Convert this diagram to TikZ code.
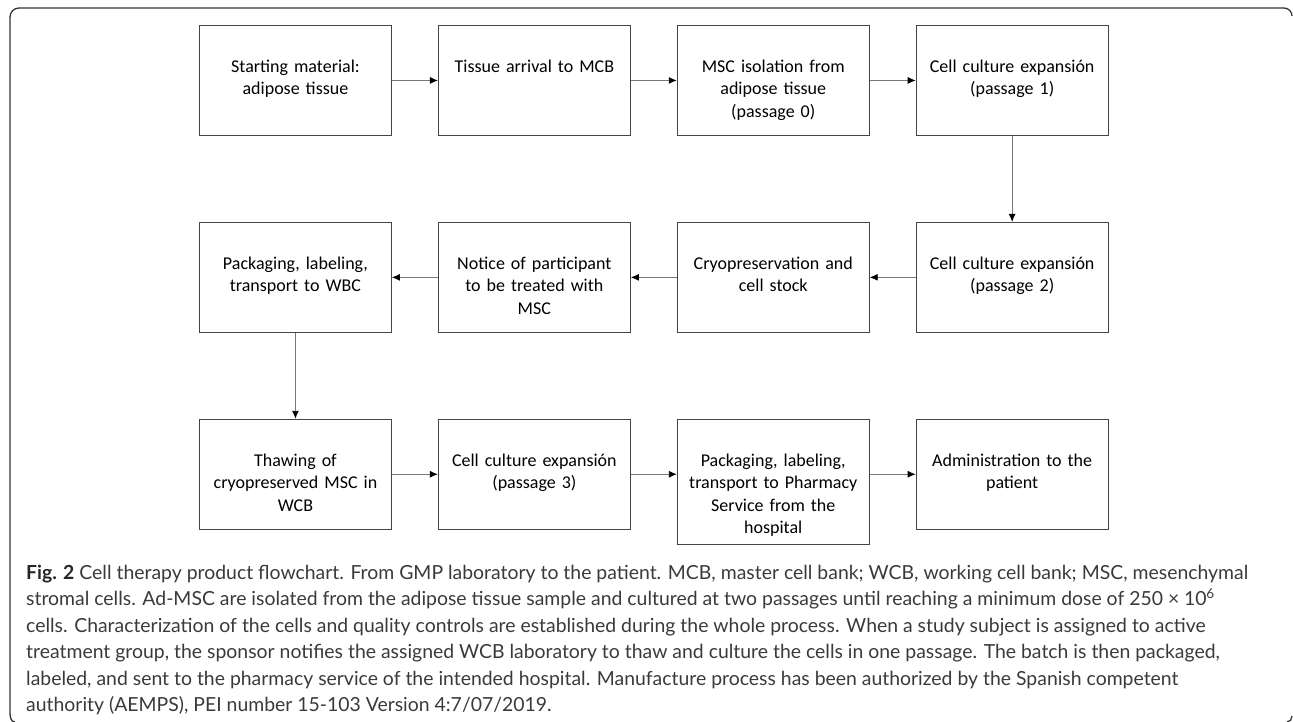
\documentclass[tikz,border=0pt]{standalone}
\usepackage{fontspec}
\setmainfont{Carlito}
\newfontfamily\capfont{Lato}
\usepackage{tikz}
\usetikzlibrary{positioning}
\usetikzlibrary{arrows.meta}

\definecolor{boxgray}{HTML}{444444}
\definecolor{flowgray}{HTML}{777777}
\definecolor{captext}{HTML}{3A3A3A}

\begin{document}
\begin{tikzpicture}[
            x = 1pt,
            y = 1pt,
            box/.style = {
                draw = boxgray,
                line width = 0.9pt,
                rectangle,
                minimum width = 192pt,
                text width = 178pt,
                align = center,
                inner xsep = 7pt,
                inner ysep = 0pt,
                text height = 47pt,
                text depth = #1,
                font = \fontsize{18}{22.5}\selectfont
            },
            box/.default = 63pt,
            flow/.style = {
                draw = flowgray,
                line width = 0.9pt,
                -{Latex[length=8pt, width=7pt, color=black]}
            },
            node distance = {86pt and 46pt}
            ]
            \useasboundingbox (0,0) rectangle (1293,-722);

            % frame round figure and caption
            \draw[line width = 1.3pt, black!80] (1292,-16) to[out=90, in=0] (1284,-8) -- (19,-8)
                to[out=180, in=90] (10,-17) -- (10,-712) to[out=-90, in=180] (15,-722);
            \draw[line width = 1.3pt, black!80] (1287,-722) to[out=0, in=-90] (1292,-716);

            % row 1
            \node[box, anchor=north west] (start) at (199,-25) {Starting material:\\ adipose tissue};
            \node[box, right=of start] (arrival) {Tissue arrival to MCB};
            \node[box, right=of arrival] (isolation) {MSC isolation from\\ adipose tissue\\ (passage 0)};
            \node[box, right=of isolation] (pass1) {Cell culture expansión\\ (passage 1)};

            % row 2
            \node[box, below=of pass1] (pass2) {Cell culture expansión\\ (passage 2)};
            \node[box, left=of pass2] (cryo) {Cryopreservation and\\ cell stock};
            \node[box, left=of cryo] (notice) {Notice of participant\\ to be treated with\\ MSC};
            \node[box, left=of notice] (packwbc) {Packaging, labeling,\\ transport to WBC};

            % row 3
            \node[box, below=of packwbc] (thaw) {Thawing of\\ cryopreserved MSC in\\ WCB};
            \node[box, right=of thaw] (pass3) {Cell culture expansión\\ (passage 3)};
            \node[box=78pt, right=of pass3.north east, anchor=north west] (packhosp) {Packaging, labeling,\\ transport to Pharmacy\\ Service from the\\ hospital};
            \node[box, right=of packhosp.north east, anchor=north west] (admin) {Administration to the\\ patient};

            \draw[flow] (start) -- (arrival);
            \draw[flow] (arrival) -- (isolation);
            \draw[flow] (isolation) -- (pass1);
            \draw[flow] (pass1) -- (pass2);
            \draw[flow] (pass2) -- (cryo);
            \draw[flow] (cryo) -- (notice);
            \draw[flow] (notice) -- (packwbc);
            \draw[flow] (packwbc) -- (thaw);
            \draw[flow] (thaw) -- (pass3);
            \draw[flow] (pass3.east) -- (pass3.east -| packhosp.west);
            \draw[flow] (packhosp.east |- admin.west) -- (admin.west);

            \node[anchor=north west, align=left, inner sep=0pt, text=captext,
                font=\capfont\fontsize{19.4}{26.4}\selectfont] (caption) at (26,-565)
                {{\bfseries\color{black!85}Fig. 2} Cell therapy product flowchart. From GMP laboratory to the patient. MCB, master cell bank; WCB, working cell bank; MSC, mesenchymal\\
                stromal cells. Ad-MSC are isolated from the adipose tissue sample and cultured at two passages until reaching a minimum dose of 250 × 10\textsuperscript{6}\\
                cells. Characterization of the cells and quality controls are established during the whole process. When a study subject is assigned to active\\
                treatment group, the sponsor notifies the assigned WCB laboratory to thaw and culture the cells in one passage. The batch is then packaged,\\
                labeled, and sent to the pharmacy service of the intended hospital. Manufacture process has been authorized by the Spanish competent\\
                authority (AEMPS), PEI number 15-103 Version 4:7/07/2019.};
        \end{tikzpicture}
\end{document}
